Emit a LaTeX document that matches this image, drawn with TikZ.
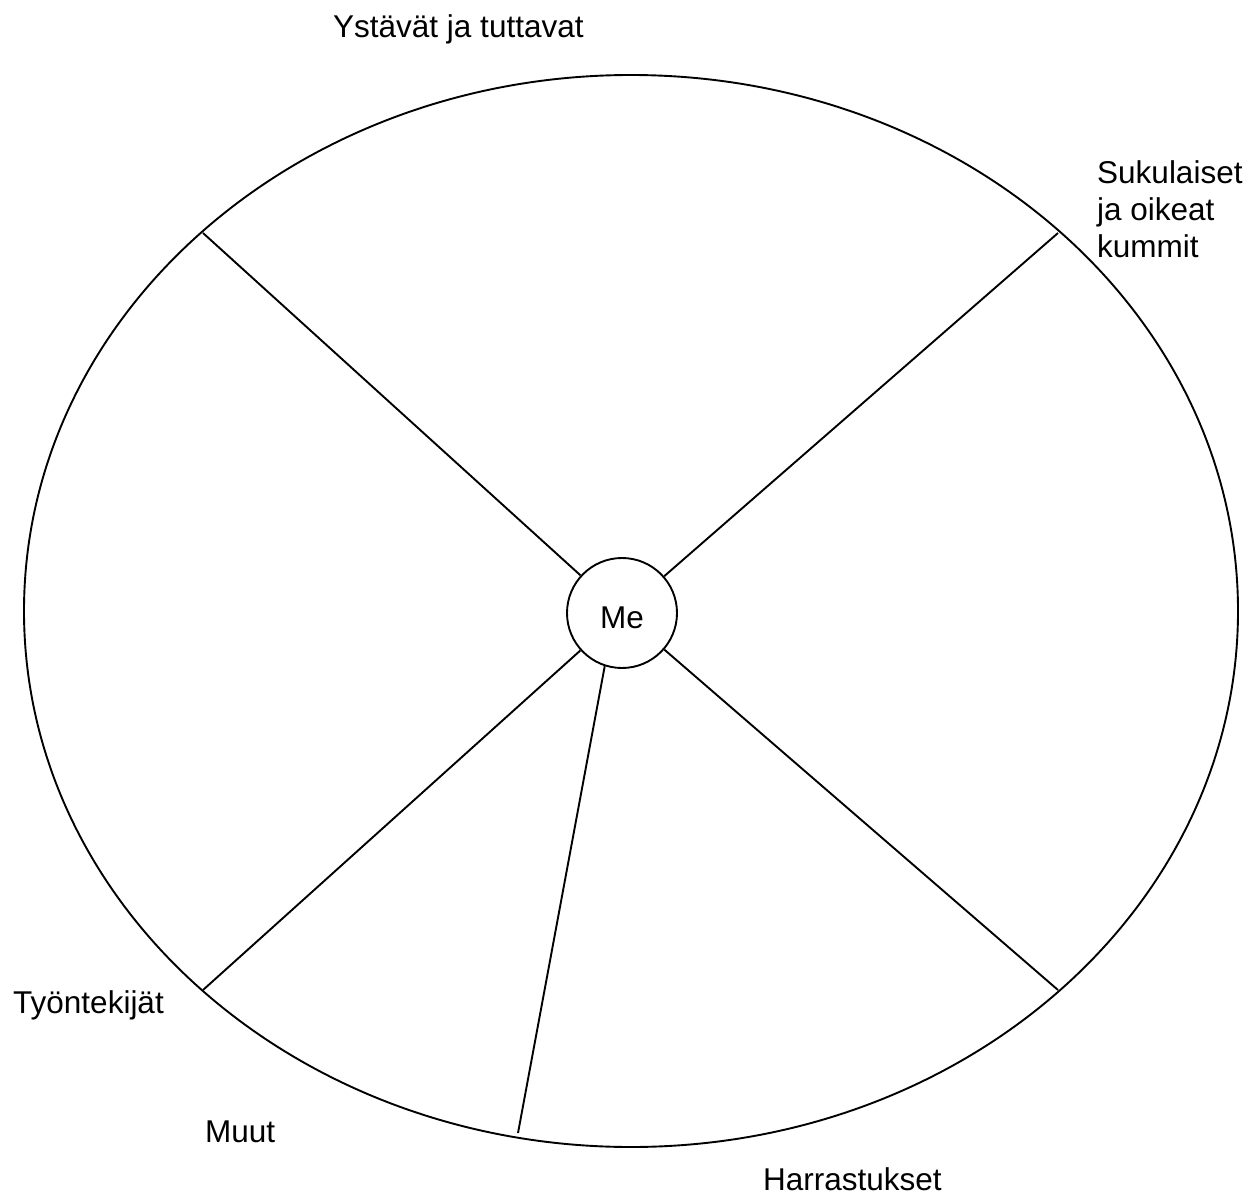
\documentclass[tikz,border=0pt]{standalone}
\usepackage{fontspec}
\setmainfont{Liberation Sans}
\begin{document}
\begin{tikzpicture}[x=1pt,y=-1pt,
  every node/.style={font=\fontsize{31.5}{37}\selectfont, inner sep=0pt},
  lbl/.style={anchor=base west},
  spoke/.style={line width=1.9pt},
]
\useasboundingbox (0,0) rectangle (1258,1196);
\draw[line width=1.9pt] (631,611) ellipse [x radius=607, y radius=536];
\node[draw, circle, line width=1.9pt, minimum size=110pt] (me) at (622,613) {};
\node (metext) at (622,618) {Me};
\coordinate (ul) at (203,233);
\coordinate (ur) at (1058,233);
\coordinate (ll) at (203,990);
\coordinate (lr) at (1058,990);
\coordinate (bt) at (518,1133);
\draw[spoke] (me) -- (ul);
\draw[spoke] (me) -- (ur);
\draw[spoke] (me) -- (ll);
\draw[spoke] (me) -- (lr);
\draw[spoke] (me.252) -- (bt);
\node[lbl] (ystavat) at (333,38) {Ystävät ja tuttavat};
\node[anchor=north west, align=left] (suku) at (1097,160) {Sukulaiset\\ja oikeat\\kummit};
\node[lbl] (tyo) at (13,1013) {Työntekijät};
\node[lbl] (muut) at (205,1142) {Muut};
\node[lbl] (harr) at (763,1190) {Harrastukset};
\end{tikzpicture}
\end{document}
